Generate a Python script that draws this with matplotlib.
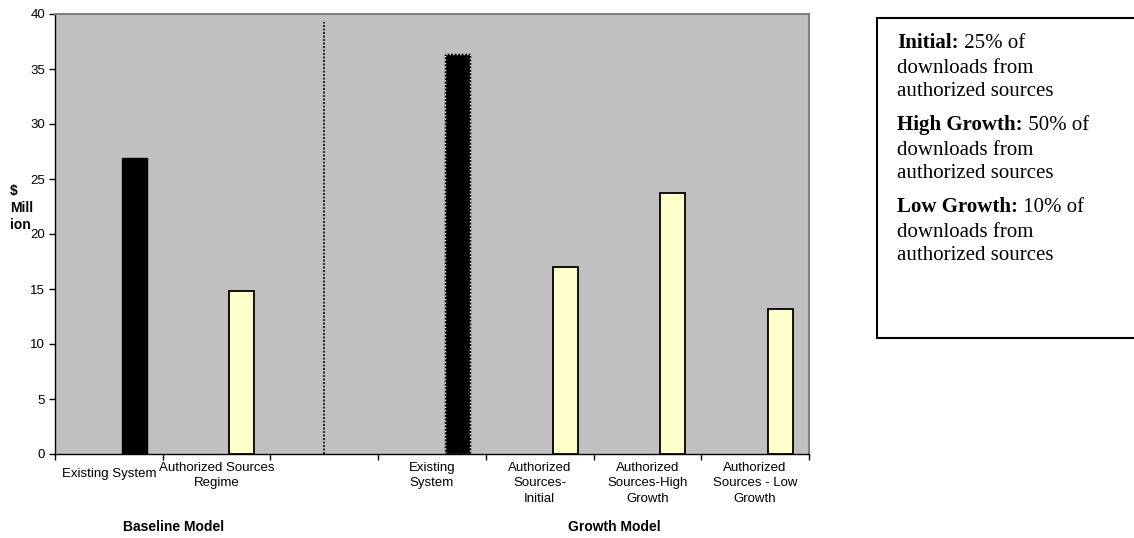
import numpy as np
import matplotlib
matplotlib.use("Agg")
import matplotlib.pyplot as plt
import matplotlib.transforms as mtransforms
from matplotlib.patches import Rectangle

# Category slots along the x axis (slot 2 is an empty spacer between the two models)
categories = [
    "Existing System",
    "Authorized Sources\nRegime",
    "",
    "Existing\nSystem",
    "Authorized\nSources-\nInitial",
    "Authorized\nSources-High\nGrowth",
    "Authorized\nSources - Low\nGrowth",
]
nan = np.nan
existing_system = [26.9, nan, nan, 36.4, nan, nan, nan]
authorized_sources = [nan, 14.8, nan, nan, 17.0, 23.7, 13.2]
group_labels = ["Baseline Model", "Growth Model"]
y_ticks = [0, 5, 10, 15, 20, 25, 30, 35, 40]

note_lines = [
    ("Initial:", " 25% of"),
    ("", "downloads from"),
    ("", "authorized sources"),
    ("High Growth:", " 50% of"),
    ("", "downloads from"),
    ("", "authorized sources"),
    ("Low Growth:", " 10% of"),
    ("", "downloads from"),
    ("", "authorized sources"),
]

SANS = "Liberation Sans"
SERIF = "Liberation Serif"

W, H = 1134, 538
fig = plt.figure(figsize=(W / 100, H / 100), dpi=100)
ax = fig.add_axes([55 / W, 1 - 454 / H, (809 - 55) / W, (454 - 14) / H])
ax.set_facecolor("#C0C0C0")

n = len(categories)
x = np.arange(n)
bar_w = 0.232
offset = 0.735  # bar centre inside its slot

ax.bar(x + offset, existing_system, width=bar_w, color="black",
       edgecolor="black", linewidth=1.0, zorder=3)
ax.bar(x + offset, authorized_sources, width=bar_w, color="#FFFFCC",
       edgecolor="black", linewidth=1.3, zorder=3)
# dotted highlight outline on the growth-model existing-system bar
ax.bar([3 + offset], [existing_system[3]], width=bar_w, color="none",
       edgecolor="white", linewidth=1.0, linestyle=(0, (1, 1.5)), zorder=4)

# separator between the two models
ax.plot([2.5, 2.5], [0, 39.3], color="#222222", linestyle=(0, (1, 0.8)),
        linewidth=1.4, zorder=2)

ax.set_xlim(0, n)
ax.set_ylim(0, 40)
ax.set_yticks(y_ticks)
ax.set_yticklabels([str(v) for v in y_ticks], fontsize=9.5, family=SANS)
ax.set_xticks(np.arange(n + 1))
ax.set_xticklabels([])
ax.tick_params(axis="both", direction="out", length=4, width=1, color="black")
ax.tick_params(axis="y", pad=3)

for side in ("left", "bottom"):
    ax.spines[side].set_color("black")
    ax.spines[side].set_linewidth(1.0)
for side in ("top", "right"):
    ax.spines[side].set_color("#808080")
    ax.spines[side].set_linewidth(1.5)

# category labels under each slot
xtrans = ax.get_xaxis_transform()
for i, lab in enumerate(categories):
    if not lab:
        continue
    dy = -14 if "\n" not in lab else -8
    tr = mtransforms.offset_copy(xtrans, fig=fig, x=0, y=dy, units="dots")
    ax.text(i + 0.5, 0, lab, transform=tr, ha="center", va="top",
            fontsize=9.5, family=SANS, linespacing=1.38)

# model group labels
for gx, glab in zip([1.105, 5.19], group_labels):
    tr = mtransforms.offset_copy(xtrans, fig=fig, x=0, y=-73, units="dots")
    ax.text(gx, 0, glab, transform=tr, ha="center", va="center",
            fontsize=10, fontweight="bold", family=SANS)

# y-axis unit label
fig.text(10 / W, 1 - 208 / H, "$\nMill\nion",
         ha="left", va="center", fontsize=10, fontweight="bold",
         family=SANS, linespacing=1.3)

# note box on the right
fig.patches.append(Rectangle((877 / W, 1 - 338 / H), 0.3, (338 - 18) / H,
                             transform=fig.transFigure, facecolor="white",
                             edgecolor="black", linewidth=1.5, clip_on=False))
NOTE_SIZE = 15
line_y = [48, 73, 96, 130, 155, 178, 212, 237, 260]
bold_texts = []
for (bold, rest), yb in zip(note_lines, line_y):
    if bold:
        t = fig.text(897 / W, 1 - yb / H, bold, ha="left", va="baseline",
                     fontsize=NOTE_SIZE, fontweight="bold", family=SERIF)
        bold_texts.append((t, rest, yb))
    else:
        fig.text(897 / W, 1 - yb / H, rest, ha="left", va="baseline",
                 fontsize=NOTE_SIZE, family=SERIF)

fig.canvas.draw()
renderer = fig.canvas.get_renderer()
for t, rest, yb in bold_texts:
    bb = t.get_window_extent(renderer)
    fig.text(bb.x1 / W, 1 - yb / H, rest, ha="left", va="baseline",
             fontsize=NOTE_SIZE, family=SERIF)

fig.savefig("out.png", dpi=100, facecolor="white")
